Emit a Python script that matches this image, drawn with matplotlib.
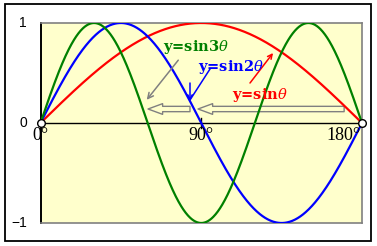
import numpy as np
import matplotlib
matplotlib.use("Agg")
import matplotlib.pyplot as plt
from matplotlib.patches import Rectangle, FancyArrowPatch

# ---- data ----
multipliers = [1, 2, 3]
curve_colors = ["#FF0000", "#0000FF", "#008000"]
curve_labels = [r"y=sin$\theta$", r"y=sin2$\theta$", r"y=sin3$\theta$"]
x_ticks = [0, 90, 180]
x_tick_labels = ["0°", "90°", "180°"]
y_ticks = [1, 0, -1]
y_tick_labels = ["1", "0", "\u22121"]

theta = np.linspace(0, 180, 721)

plt.rcParams["mathtext.fontset"] = "dejavuserif"

W, H = 377, 246
fig = plt.figure(figsize=(W / 100, H / 100), dpi=100)
fig.patch.set_facecolor("white")

# outer border
fig.patches.append(Rectangle((5 / W, 1 - 241 / H), 366 / W, 237 / H,
                             transform=fig.transFigure, fill=False,
                             edgecolor="black", linewidth=1.3))

ax = fig.add_axes([40.5 / W, 1 - 223 / H, 321.5 / W, 200 / H])
ax.set_facecolor("#FFFFCC")
ax.set_xlim(0, 180)
ax.set_ylim(-1, 1)
ax.set_xticks([])
ax.set_yticks([])
for s in ["top", "right", "bottom"]:
    ax.spines[s].set_color("#808080")
    ax.spines[s].set_linewidth(1.2)
ax.spines["left"].set_color("black")
ax.spines["left"].set_linewidth(1.4)

ax.axhline(0, color="black", lw=1.0, zorder=2)
ax.plot([90, 90], [0.05, -0.05], color="black", lw=1.0, zorder=2)

for m, c in zip(multipliers, curve_colors):
    ax.plot(theta, np.sin(np.radians(m * theta)), color=c, lw=1.6, zorder=3)

# open circles at ends
ax.plot([0, 180], [0, 0], "o", ms=5.5, mfc="white", mec="black", mew=1.0,
        clip_on=False, zorder=5)

# tick labels
for xv, lab in zip(x_ticks, x_tick_labels):
    ha = "center"
    xx = xv
    if xv == 180:
        ha = "right"
        xx = 179
    ax.text(xx, -0.04, lab, ha=ha, va="top", fontsize=13,
            family="Liberation Serif", color="black")
for yv, lab in zip(y_ticks, y_tick_labels):
    ax.text(-7.5, yv, lab, ha="right", va="center", fontsize=10,
            family="Liberation Sans", color="black", clip_on=False)

# labels
label_pos = [(107.2, 0.28), (88.2, 0.56), (68.6, 0.76)]
for (lx, ly), lab, c in zip(label_pos, curve_labels, curve_colors):
    ax.text(lx, ly, lab, color=c, fontsize=10.5, family="DejaVu Serif",
            weight="bold", ha="left", va="center", zorder=6)

gray = "#808080"
# diagonal gray arrow
ax.annotate("", xy=(58.5, 0.21), xytext=(78.1, 0.65),
            arrowprops=dict(arrowstyle="->", color=gray, lw=1.1,
                            mutation_scale=10))
# block arrows
for x0, x1 in [(83.7, 60.2), (170.0, 88.2)]:
    p = FancyArrowPatch((x0, 0.14), (x1, 0.14),
                        arrowstyle="simple,head_length=1.5,head_width=1.1,tail_width=0.55",
                        mutation_scale=7, facecolor="#FFFFCC", edgecolor=gray,
                        lw=1.0, zorder=2.5, shrinkA=0, shrinkB=0)
    ax.add_patch(p)

# blue pointer
ax.plot([94.9, 83.7], [0.54, 0.23], color="#0000FF", lw=1.1, zorder=4)
ax.annotate("", xy=(83.7, 0.22), xytext=(83.7, 0.40),
            arrowprops=dict(arrowstyle="->", color="#0000FF", lw=1.1,
                            mutation_scale=8, shrinkA=0, shrinkB=0))
# red pointer
ax.annotate("", xy=(130.2, 0.70), xytext=(117.3, 0.40),
            arrowprops=dict(arrowstyle="->", color="#FF0000", lw=1.1,
                            mutation_scale=8, shrinkA=0, shrinkB=0))

fig.savefig("out.png", dpi=100)
